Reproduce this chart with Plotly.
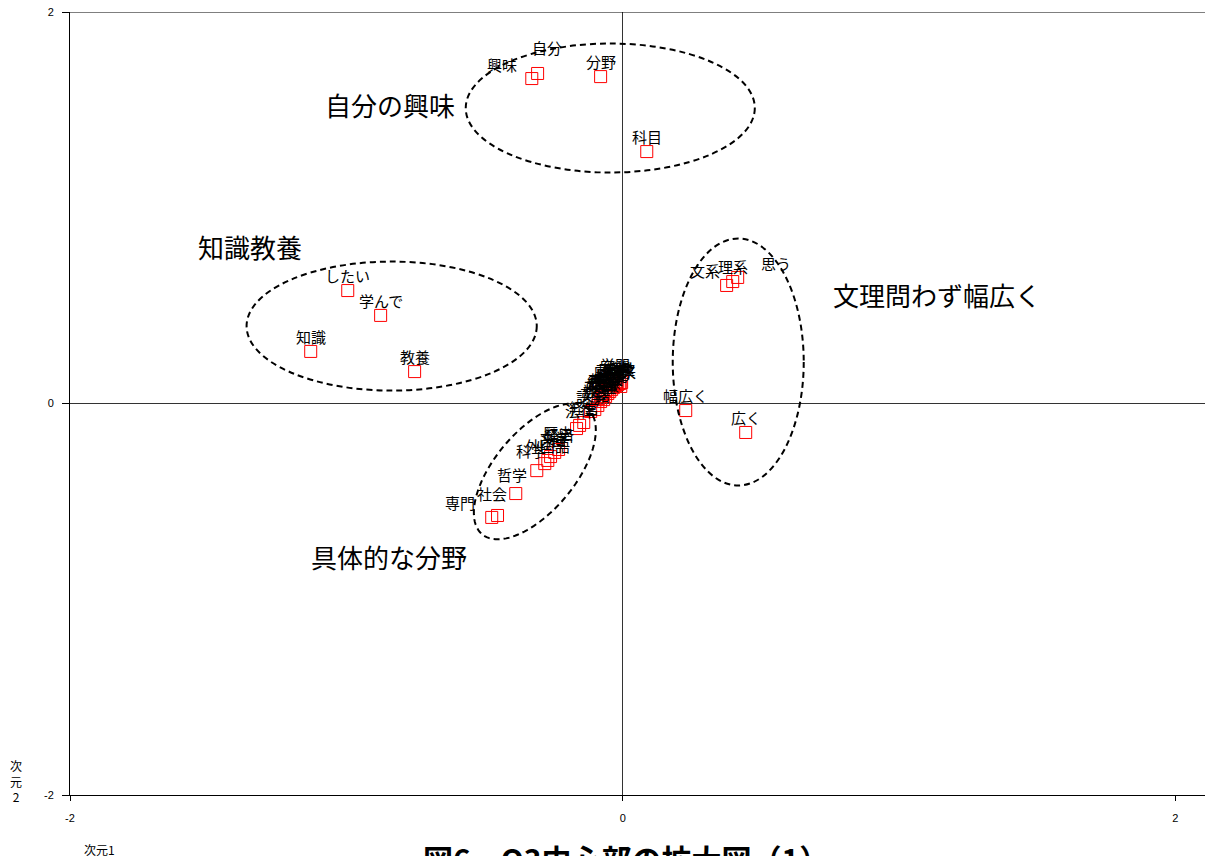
import numpy as np
import plotly.graph_objects as go

# ---- data ----
words = ["興味", "自分", "分野", "科目",
         "したい", "学んで", "知識", "教養",
         "文系", "理系", "思う", "幅広く", "広く",
         "社会", "専門", "", "哲学"]
dim1 = [-0.329, -0.308, -0.080, 0.087,
        -0.995, -0.876, -1.129, -0.753,
        0.376, 0.398, 0.416, 0.228, 0.445,
        -0.387, -0.474, -0.453, -0.311]
dim2 = [1.660, 1.686, 1.670, 1.287,
        0.577, 0.450, 0.266, 0.163,
        0.603, 0.623, 0.644, -0.036, -0.148,
        -0.460, -0.582, -0.572, -0.343]

# crowded words near the origin
cluster_words = ["科学", "外国語", "心理", "文学", "経済",
                 "歴史", "法律", "経営",
                 "語学", "英語", "数学", "物理", "情報", "医療",
                 "芸術", "音楽", "教育", "人間", "環境", "国際",
                 "文化", "政治", "生物", "化学", "工学", "福祉",
                 "色々", "様々", "学問", "将来", "大学", "勉強"]
cluster_d1 = [-0.282, -0.271, -0.261, -0.246, -0.232,
              -0.167, -0.156, -0.141,
              -0.116, -0.101, -0.090, -0.080, -0.069, -0.062,
              -0.072, -0.054, -0.047, -0.061, -0.040, -0.051,
              -0.033, -0.043, -0.025, -0.018, -0.036, -0.011,
              -0.022, -0.004, -0.029, -0.007, -0.087, -0.076]
cluster_d2 = [-0.307, -0.291, -0.271, -0.250, -0.235,
              -0.128, -0.112, -0.097,
              -0.041, -0.031, -0.010, 0.010, 0.020, 0.036,
              0.046, 0.051, 0.061, 0.066, 0.072, 0.082,
              0.082, 0.092, 0.092, 0.097, 0.102, 0.102,
              0.112, 0.107, 0.122, 0.087, 0.026, 0.036]

groups = ["自分の興味", "知識教養", "文理問わず幅広く", "具体的な分野"]
group_x = [-0.843, -1.350, 1.137, -0.847]
group_y = [1.527, 0.802, 0.557, -0.782]

# label offsets in px (dx, dy) for words whose label is not straight above
label_shift = {"興味": (-30, 14), "自分": (9, 26), "文系": (-22, 15),
               "思う": (38, 14), "社会": (-24, 0), "専門": (-32, 15),
               "哲学": (-25, -4), "科学": (-14, 13), "歴史": (-19, -4)}

PX_X = 276.25   # px per unit, x
PX_Y = 195.75   # px per unit, y
X_MAX = 2.107
JP = "Noto Sans CJK JP"

fig = go.Figure()

all_words = words + cluster_words
all_x = dim1 + cluster_d1
all_y = dim2 + cluster_d2

fig.add_trace(go.Scatter(
    x=all_x, y=all_y, mode="markers",
    marker=dict(symbol="square-open", size=12, color="red",
                line=dict(color="red", width=1)),
    hoverinfo="text", text=all_words, showlegend=False,
))

annotations = []
for w, x, y in zip(all_words, all_x, all_y):
    if not w:
        continue
    dx, dy = label_shift.get(w, (0, 15))
    annotations.append(dict(
        x=x, y=y, xref="x", yref="y", text=w, showarrow=False,
        xshift=dx, yshift=dy,
        font=dict(size=15, color="black", family=JP),
    ))

for g, x, y in zip(groups, group_x, group_y):
    annotations.append(dict(
        x=x, y=y, xref="x", yref="y", text=g, showarrow=False,
        font=dict(size=26, color="black", family=JP),
    ))

# axis titles and figure caption
annotations += [
    dict(x=0.026, y=-0.070, xref="paper", yref="paper", text="次元1",
         showarrow=False, xanchor="center", yanchor="middle",
         font=dict(size=12, color="black", family=JP)),
    dict(x=-0.048, y=0.018, xref="paper", yref="paper",
         text="次<br>元<br>2", showarrow=False,
         xanchor="center", yanchor="middle",
         font=dict(size=12, color="black", family=JP)),
    dict(x=0.49, y=-0.050, xref="paper", yref="paper",
         text="<b>図6　Q3中心部の拡大図（1）</b>", showarrow=False,
         xanchor="center", yanchor="top",
         font=dict(size=30, color="black", family=JP)),
]

dash = "6px,4px"
shapes = [
    dict(type="line", xref="x", yref="y", x0=-2, x1=X_MAX, y0=2, y1=2,
         line=dict(color="black", width=1)),
    dict(type="circle", xref="x", yref="y", x0=-0.568, x1=0.478,
         y0=1.180, y1=1.839, line=dict(color="black", width=2, dash=dash)),
    dict(type="circle", xref="x", yref="y", x0=-1.361, x1=-0.311,
         y0=0.066, y1=0.725, line=dict(color="black", width=2, dash=dash)),
    dict(type="circle", xref="x", yref="y", x0=0.181, x1=0.655,
         y0=-0.419, y1=0.843, line=dict(color="black", width=2, dash=dash)),
]

# tilted ellipse around the specific-field words
t = np.linspace(0, 2 * np.pi, 120)
th = np.deg2rad(50)
a_px, b_px = 82, 40
ex_px = a_px * np.cos(t) * np.cos(th) - b_px * np.sin(t) * np.sin(th)
ey_px = a_px * np.cos(t) * np.sin(th) + b_px * np.sin(t) * np.cos(th)
cx, cy = -0.318, -0.347
ex = cx + ex_px / PX_X
ey = cy + ey_px / PX_Y
path = "M " + " L ".join(f"{x:.4f},{y:.4f}" for x, y in zip(ex, ey)) + " Z"
shapes.append(dict(type="path", xref="x", yref="y", path=path,
                   line=dict(color="black", width=2, dash=dash)))

fig.update_layout(
    width=1205, height=856,
    margin=dict(l=70, r=0, t=12, b=61),
    paper_bgcolor="white", plot_bgcolor="white",
    font=dict(family="Liberation Sans, Arial", size=11, color="black"),
    xaxis=dict(range=[-2, X_MAX], tickvals=[-2, 0, 2], ticktext=["-2", "0", "2"],
               showgrid=False, zeroline=True, zerolinecolor="#333",
               zerolinewidth=1, showline=True, linecolor="black", linewidth=1,
               ticks="outside", ticklen=5, tickcolor="black",
               ticklabelstandoff=8),
    yaxis=dict(range=[-2, 2], tickvals=[-2, 0, 2], ticktext=["-2", "0", "2"],
               showgrid=False, zeroline=True, zerolinecolor="#333",
               zerolinewidth=1, showline=True, linecolor="black", linewidth=1,
               ticks="outside", ticklen=7, tickcolor="black",
               ticklabelstandoff=6),
    shapes=shapes,
    annotations=annotations,
)

fig.write_html("out.html", config={"displayModeBar": False},
               post_script="document.body.style.margin='0px';"
                           "document.body.style.overflow='hidden';")
